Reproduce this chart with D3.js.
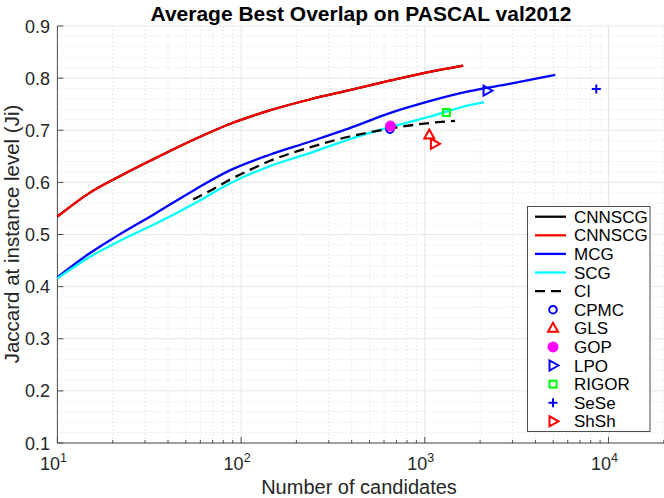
<!DOCTYPE html>
<html>
<head>
<meta charset="UTF-8">
<script src="https://cdn.jsdelivr.net/npm/d3@7"></script>
<style>
  body { margin: 0; background: #fff; }
  svg { font-family: "Liberation Sans", Arial, sans-serif; }
</style>
</head>
<body>
<div id="chart"></div>
<script>
// curves: candidates vs Jaccard
var redN = [10, 14.7, 22.5, 34, 50.8, 86.8, 143, 236, 390, 644, 1063, 1618];
var redJ = [0.5345, 0.578, 0.614, 0.646, 0.676, 0.712, 0.738, 0.759, 0.777, 0.795, 0.812, 0.824];
var mcgN = [10, 14.7, 20.6, 34, 56, 86.8, 143, 236, 390, 644, 1063, 1750, 2890, 5130];
var mcgJ = [0.418, 0.462, 0.495, 0.540, 0.586, 0.623, 0.653, 0.678, 0.704, 0.733, 0.756, 0.775, 0.789, 0.806];
var scgN = [10, 14.7, 21.9, 34, 56, 86.8, 143, 236, 390, 644, 1063, 1750, 2100];
var scgJ = [0.416, 0.455, 0.488, 0.520, 0.560, 0.598, 0.631, 0.656, 0.683, 0.706, 0.726, 0.748, 0.754];
var ciN  = [54.8, 70.3, 86.8, 111.7, 143, 236, 390, 644, 1063, 1459];
var ciJ  = [0.567, 0.587, 0.605, 0.624, 0.641, 0.667, 0.688, 0.703, 0.714, 0.718];
// single operating points
var pointNames = ["CPMC", "GLS", "GOP", "LPO", "RIGOR", "SeSe", "ShSh"];
var pointN     = [646, 1058, 650, 2182, 1311, 8580, 1128];
var pointJ     = [0.702, 0.691, 0.708, 0.776, 0.734, 0.779, 0.674];
var yTicks = [0.1, 0.2, 0.3, 0.4, 0.5, 0.6, 0.7, 0.8, 0.9];
var xTicks = [10, 100, 1000, 10000];

var W = 664, H = 498;
var svg = d3.select("#chart").append("svg").attr("width", W).attr("height", H);

var x = d3.scaleLog().domain([10, 20000]).range([57.4, 663.8]);
var y = d3.scaleLinear().domain([0.1, 0.9]).range([443, 26]);

// grid
var grid = svg.append("g");
var minorX = [];
[10, 100, 1000, 10000].forEach(function(d) {
  for (var k = 2; k <= 9; k++) if (d * k <= 20000) minorX.push(d * k);
});
var minorY = d3.range(0.12, 0.9, 0.02).filter(function(v) {
  return Math.abs(v * 10 - Math.round(v * 10)) > 0.01;
});
grid.selectAll(".mx").data(minorX).enter().append("line")
  .attr("x1", x).attr("x2", x).attr("y1", y(0.1)).attr("y2", y(0.9))
  .attr("stroke", "#d6d6d6").attr("stroke-width", 1).attr("stroke-dasharray", "1,3");
grid.selectAll(".my").data(minorY).enter().append("line")
  .attr("x1", x(10)).attr("x2", W).attr("y1", y).attr("y2", y)
  .attr("stroke", "#d6d6d6").attr("stroke-width", 1).attr("stroke-dasharray", "1,3");
grid.selectAll(".gx").data(xTicks).enter().append("line")
  .attr("x1", x).attr("x2", x).attr("y1", y(0.1)).attr("y2", y(0.9))
  .attr("stroke", "#e6e6e6").attr("stroke-width", 1);
grid.selectAll(".gy").data(yTicks).enter().append("line")
  .attr("x1", x(10)).attr("x2", W).attr("y1", y).attr("y2", y)
  .attr("stroke", "#e6e6e6").attr("stroke-width", 1);

// axes
var axisCol = "#4d4d4d";
svg.append("line").attr("x1", x(10)).attr("x2", x(10)).attr("y1", y(0.9)).attr("y2", y(0.1))
  .attr("stroke", axisCol).attr("stroke-width", 1);
svg.append("line").attr("x1", x(10)).attr("x2", W).attr("y1", y(0.1)).attr("y2", y(0.1))
  .attr("stroke", axisCol).attr("stroke-width", 1);
svg.selectAll(".yt").data(yTicks).enter().append("line")
  .attr("x1", x(10)).attr("x2", x(10) + 6).attr("y1", y).attr("y2", y)
  .attr("stroke", axisCol);
svg.selectAll(".xt").data(xTicks).enter().append("line")
  .attr("x1", x).attr("x2", x).attr("y1", y(0.1)).attr("y2", y(0.1) - 6)
  .attr("stroke", axisCol);
svg.selectAll(".xmt").data(minorX).enter().append("line")
  .attr("x1", x).attr("x2", x).attr("y1", y(0.1)).attr("y2", y(0.1) - 3)
  .attr("stroke", axisCol);

svg.selectAll(".yl").data(yTicks).enter().append("text")
  .attr("x", 50).attr("y", function(d) { return y(d) + 6.5; })
  .attr("text-anchor", "end").attr("font-size", 18).attr("fill", "#262626")
  .text(function(d) { return d.toFixed(1); });
var xl = svg.selectAll(".xl").data(xTicks).enter().append("text")
  .attr("x", function(d) { return x(d) - 4; }).attr("y", 470)
  .attr("text-anchor", "middle").attr("font-size", 18).attr("fill", "#262626");
xl.append("tspan").text("10");
xl.append("tspan").attr("dy", -8).attr("font-size", 12.5)
  .text(function(d) { return Math.round(Math.log10(d)); });

svg.append("text").attr("x", 359).attr("y", 494).attr("text-anchor", "middle")
  .attr("font-size", 20).attr("fill", "#262626").text("Number of candidates");
svg.append("text").attr("transform", "translate(19,234) rotate(-90)")
  .attr("text-anchor", "middle").attr("font-size", 20.5).attr("fill", "#262626")
  .text("Jaccard at instance level (Ji)");
svg.append("text").attr("x", 361).attr("y", 21).attr("text-anchor", "middle")
  .attr("font-size", 21).attr("font-weight", "bold").attr("fill", "#000")
  .text("Average Best Overlap on PASCAL val2012");

// curves
var line = d3.line().x(function(d) { return x(d[0]); }).y(function(d) { return y(d[1]); })
  .curve(d3.curveMonotoneX);
var series = [
  { name: "CNNSCG", N: redN, J: redJ, color: "#000000", dash: null },
  { name: "CNNSCG", N: redN, J: redJ, color: "#ff0000", dash: null },
  { name: "MCG", N: mcgN, J: mcgJ, color: "#0000ff", dash: null },
  { name: "SCG", N: scgN, J: scgJ, color: "#00ffff", dash: null },
  { name: "CI", N: ciN, J: ciJ, color: "#000000", dash: "10,6" }
];
var plot = svg.append("g");
series.forEach(function(s) {
  plot.append("path").datum(d3.zip(s.N, s.J)).attr("d", line)
    .attr("fill", "none").attr("stroke", s.color).attr("stroke-width", 2.3)
    .attr("stroke-dasharray", s.dash);
});

// markers
var markerStyle = {
  CPMC:  { shape: "circle", color: "#0000ff", fill: false },
  GLS:   { shape: "tri", color: "#ff0000", fill: false },
  GOP:   { shape: "circle", color: "#ff00ff", fill: true },
  LPO:   { shape: "rtri", color: "#0000ff", fill: false },
  RIGOR: { shape: "square", color: "#00ff00", fill: false },
  SeSe:  { shape: "plus", color: "#0000ff", fill: false },
  ShSh:  { shape: "rtri", color: "#ff0000", fill: false }
};
function drawMarker(g, name, cx, cy) {
  var m = markerStyle[name], el;
  if (m.shape === "circle") {
    el = g.append("circle").attr("cx", cx).attr("cy", cy).attr("r", m.fill ? 4.5 : 3.8);
  } else if (m.shape === "tri") {
    el = g.append("path").attr("d", "M" + cx + "," + (cy - 5.5) + "L" + (cx + 5) + "," + (cy + 3.5) + "L" + (cx - 5) + "," + (cy + 3.5) + "Z");
  } else if (m.shape === "rtri") {
    el = g.append("path").attr("d", "M" + (cx + 5.5) + "," + cy + "L" + (cx - 3.5) + "," + (cy + 5) + "L" + (cx - 3.5) + "," + (cy - 5) + "Z");
  } else if (m.shape === "square") {
    el = g.append("rect").attr("x", cx - 3.5).attr("y", cy - 3.5).attr("width", 7).attr("height", 7);
  } else {
    el = g.append("path").attr("d", "M" + (cx - 4.5) + "," + cy + "H" + (cx + 4.5) + "M" + cx + "," + (cy - 4.5) + "V" + (cy + 4.5));
  }
  el.attr("stroke", m.color).attr("stroke-width", 2)
    .attr("fill", m.fill ? m.color : "none");
}
// CPMC below GOP
[0, 2, 1, 6, 3, 4, 5].forEach(function(i) {
  drawMarker(plot, pointNames[i], x(pointN[i]), y(pointJ[i]));
});

// legend
var lg = svg.append("g");
lg.append("rect").attr("x", 527.5).attr("y", 206.5).attr("width", 122.5).attr("height", 225)
  .attr("fill", "#fff").attr("stroke", "#4d4d4d").attr("stroke-width", 1);
var rowY = function(i) { return 216.7 + i * 18.6; };
series.forEach(function(s, i) {
  lg.append("line").attr("x1", 535).attr("x2", 566).attr("y1", rowY(i)).attr("y2", rowY(i))
    .attr("stroke", s.color).attr("stroke-width", 2.3).attr("stroke-dasharray", s.dash);
  lg.append("text").attr("x", 574).attr("y", rowY(i) + 6).attr("font-size", 17)
    .attr("fill", "#000").text(s.name);
});
pointNames.forEach(function(n, j) {
  var i = j + series.length;
  drawMarker(lg, n, 553, rowY(i));
  lg.append("text").attr("x", 574).attr("y", rowY(i) + 6).attr("font-size", 17)
    .attr("fill", "#000").text(n);
});
</script>
</body>
</html>
